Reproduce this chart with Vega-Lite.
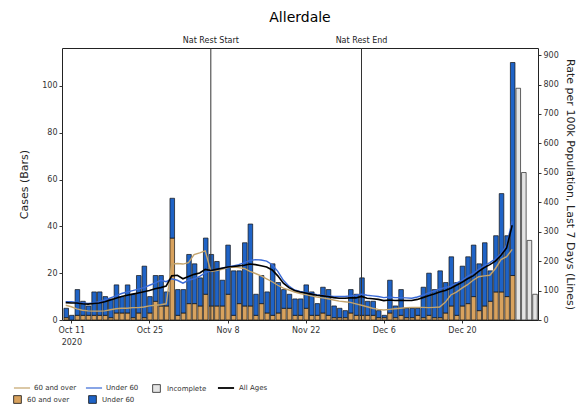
{
  "$schema": "https://vega.github.io/schema/vega-lite/v6.json",
  "width": 476,
  "height": 272,
  "autosize": {"type": "none"},
  "padding": {"left": 62, "top": 48, "right": 39, "bottom": 90},
  "background": "white",
  "config": {
    "font": "DejaVu Sans",
    "view": {"stroke": "#222", "strokeWidth": 1},
    "axis": {
      "labelFont": "DejaVu Sans", "labelFontSize": 8, "labelColor": "#333",
      "titleFont": "DejaVu Sans", "titleFontSize": 11, "titleFontWeight": "normal", "titleColor": "#222",
      "tickColor": "#333", "tickSize": 3, "domain": false, "grid": false, "labelPadding": 2
    },
    "legend": {"labelFont": "DejaVu Sans", "labelFontSize": 7, "labelColor": "#333", "padding": 0, "title": null, "orient": "none", "direction": "horizontal"}
  },
  "title": {"text": "Allerdale", "font": "DejaVu Sans", "fontSize": 14, "fontWeight": "normal", "color": "#000", "anchor": "middle", "frame": "group", "offset": 12},
  "datasets": {
    "daily": [
      {"date": "2020-10-10", "B60": 1, "BU60": 4, "L60": 50, "LU60": 62, "LAll": 59},
      {"date": "2020-10-11", "B60": 0, "BU60": 2, "L60": 45, "LU60": 62, "LAll": 58},
      {"date": "2020-10-12", "B60": 2, "BU60": 11, "L60": 38, "LU60": 60, "LAll": 58},
      {"date": "2020-10-13", "B60": 2, "BU60": 6, "L60": 33, "LU60": 58, "LAll": 55},
      {"date": "2020-10-14", "B60": 2, "BU60": 4, "L60": 31, "LU60": 56, "LAll": 54},
      {"date": "2020-10-15", "B60": 2, "BU60": 10, "L60": 30, "LU60": 58, "LAll": 56},
      {"date": "2020-10-16", "B60": 2, "BU60": 10, "L60": 30, "LU60": 62, "LAll": 58},
      {"date": "2020-10-17", "B60": 2, "BU60": 8, "L60": 31, "LU60": 68, "LAll": 62},
      {"date": "2020-10-18", "B60": 1, "BU60": 8, "L60": 35, "LU60": 75, "LAll": 68},
      {"date": "2020-10-19", "B60": 3, "BU60": 12, "L60": 38, "LU60": 82, "LAll": 74},
      {"date": "2020-10-20", "B60": 3, "BU60": 7, "L60": 40, "LU60": 90, "LAll": 80},
      {"date": "2020-10-21", "B60": 3, "BU60": 12, "L60": 40, "LU60": 95, "LAll": 84},
      {"date": "2020-10-22", "B60": 1, "BU60": 10, "L60": 42, "LU60": 100, "LAll": 88},
      {"date": "2020-10-23", "B60": 3, "BU60": 16, "L60": 42, "LU60": 105, "LAll": 92},
      {"date": "2020-10-24", "B60": 1, "BU60": 22, "L60": 44, "LU60": 110, "LAll": 96},
      {"date": "2020-10-25", "B60": 3, "BU60": 7, "L60": 48, "LU60": 118, "LAll": 100},
      {"date": "2020-10-26", "B60": 8, "BU60": 11, "L60": 50, "LU60": 125, "LAll": 106},
      {"date": "2020-10-27", "B60": 6, "BU60": 13, "L60": 52, "LU60": 135, "LAll": 110},
      {"date": "2020-10-28", "B60": 6, "BU60": 6, "L60": 55, "LU60": 130, "LAll": 115},
      {"date": "2020-10-29", "B60": 35, "BU60": 17, "L60": 190, "LU60": 140, "LAll": 150},
      {"date": "2020-10-30", "B60": 2, "BU60": 11, "L60": 192, "LU60": 135, "LAll": 152},
      {"date": "2020-10-31", "B60": 3, "BU60": 10, "L60": 190, "LU60": 125, "LAll": 140},
      {"date": "2020-11-01", "B60": 7, "BU60": 21, "L60": 195, "LU60": 135, "LAll": 148},
      {"date": "2020-11-02", "B60": 7, "BU60": 17, "L60": 222, "LU60": 140, "LAll": 155},
      {"date": "2020-11-03", "B60": 6, "BU60": 12, "L60": 228, "LU60": 148, "LAll": 160},
      {"date": "2020-11-04", "B60": 11, "BU60": 24, "L60": 235, "LU60": 160, "LAll": 172},
      {"date": "2020-11-05", "B60": 6, "BU60": 22, "L60": 165, "LU60": 168, "LAll": 168},
      {"date": "2020-11-06", "B60": 6, "BU60": 19, "L60": 168, "LU60": 172, "LAll": 172},
      {"date": "2020-11-07", "B60": 6, "BU60": 11, "L60": 172, "LU60": 176, "LAll": 176},
      {"date": "2020-11-08", "B60": 11, "BU60": 21, "L60": 178, "LU60": 180, "LAll": 180},
      {"date": "2020-11-09", "B60": 2, "BU60": 19, "L60": 180, "LU60": 184, "LAll": 182},
      {"date": "2020-11-10", "B60": 7, "BU60": 14, "L60": 178, "LU60": 188, "LAll": 184},
      {"date": "2020-11-11", "B60": 6, "BU60": 27, "L60": 175, "LU60": 195, "LAll": 186},
      {"date": "2020-11-12", "B60": 6, "BU60": 35, "L60": 165, "LU60": 202, "LAll": 190},
      {"date": "2020-11-13", "B60": 2, "BU60": 9, "L60": 158, "LU60": 205, "LAll": 188},
      {"date": "2020-11-14", "B60": 7, "BU60": 12, "L60": 150, "LU60": 204, "LAll": 184},
      {"date": "2020-11-15", "B60": 3, "BU60": 9, "L60": 140, "LU60": 200, "LAll": 180},
      {"date": "2020-11-16", "B60": 2, "BU60": 22, "L60": 130, "LU60": 188, "LAll": 170},
      {"date": "2020-11-17", "B60": 3, "BU60": 13, "L60": 118, "LU60": 165, "LAll": 150},
      {"date": "2020-11-18", "B60": 5, "BU60": 8, "L60": 108, "LU60": 135, "LAll": 125},
      {"date": "2020-11-19", "B60": 5, "BU60": 6, "L60": 102, "LU60": 115, "LAll": 110},
      {"date": "2020-11-20", "B60": 2, "BU60": 7, "L60": 95, "LU60": 102, "LAll": 100},
      {"date": "2020-11-21", "B60": 2, "BU60": 7, "L60": 90, "LU60": 97, "LAll": 95},
      {"date": "2020-11-22", "B60": 5, "BU60": 10, "L60": 86, "LU60": 94, "LAll": 92},
      {"date": "2020-11-23", "B60": 2, "BU60": 10, "L60": 82, "LU60": 90, "LAll": 88},
      {"date": "2020-11-24", "B60": 2, "BU60": 5, "L60": 78, "LU60": 86, "LAll": 84},
      {"date": "2020-11-25", "B60": 3, "BU60": 11, "L60": 75, "LU60": 84, "LAll": 82},
      {"date": "2020-11-26", "B60": 2, "BU60": 11, "L60": 72, "LU60": 82, "LAll": 80},
      {"date": "2020-11-27", "B60": 1, "BU60": 5, "L60": 68, "LU60": 80, "LAll": 76},
      {"date": "2020-11-28", "B60": 1, "BU60": 4, "L60": 64, "LU60": 80, "LAll": 74},
      {"date": "2020-11-29", "B60": 1, "BU60": 3, "L60": 62, "LU60": 80, "LAll": 74},
      {"date": "2020-11-30", "B60": 3, "BU60": 10, "L60": 60, "LU60": 82, "LAll": 75},
      {"date": "2020-12-01", "B60": 2, "BU60": 9, "L60": 55, "LU60": 84, "LAll": 75},
      {"date": "2020-12-02", "B60": 2, "BU60": 16, "L60": 50, "LU60": 88, "LAll": 80},
      {"date": "2020-12-03", "B60": 2, "BU60": 6, "L60": 45, "LU60": 84, "LAll": 74},
      {"date": "2020-12-04", "B60": 2, "BU60": 6, "L60": 40, "LU60": 82, "LAll": 72},
      {"date": "2020-12-05", "B60": 1, "BU60": 3, "L60": 36, "LU60": 80, "LAll": 70},
      {"date": "2020-12-06", "B60": 1, "BU60": 1, "L60": 34, "LU60": 76, "LAll": 66},
      {"date": "2020-12-07", "B60": 3, "BU60": 14, "L60": 36, "LU60": 78, "LAll": 68},
      {"date": "2020-12-08", "B60": 1, "BU60": 5, "L60": 38, "LU60": 76, "LAll": 66},
      {"date": "2020-12-09", "B60": 2, "BU60": 11, "L60": 40, "LU60": 76, "LAll": 67},
      {"date": "2020-12-10", "B60": 1, "BU60": 4, "L60": 42, "LU60": 75, "LAll": 66},
      {"date": "2020-12-11", "B60": 1, "BU60": 4, "L60": 43, "LU60": 74, "LAll": 66},
      {"date": "2020-12-12", "B60": 2, "BU60": 3, "L60": 43, "LU60": 78, "LAll": 70},
      {"date": "2020-12-13", "B60": 1, "BU60": 13, "L60": 43, "LU60": 84, "LAll": 76},
      {"date": "2020-12-14", "B60": 2, "BU60": 18, "L60": 42, "LU60": 92, "LAll": 82},
      {"date": "2020-12-15", "B60": 1, "BU60": 12, "L60": 43, "LU60": 98, "LAll": 88},
      {"date": "2020-12-16", "B60": 1, "BU60": 20, "L60": 44, "LU60": 106, "LAll": 95},
      {"date": "2020-12-17", "B60": 3, "BU60": 13, "L60": 60, "LU60": 110, "LAll": 100},
      {"date": "2020-12-18", "B60": 6, "BU60": 21, "L60": 85, "LU60": 115, "LAll": 108},
      {"date": "2020-12-19", "B60": 2, "BU60": 14, "L60": 95, "LU60": 125, "LAll": 118},
      {"date": "2020-12-20", "B60": 6, "BU60": 17, "L60": 108, "LU60": 135, "LAll": 128},
      {"date": "2020-12-21", "B60": 7, "BU60": 20, "L60": 120, "LU60": 148, "LAll": 140},
      {"date": "2020-12-22", "B60": 10, "BU60": 22, "L60": 135, "LU60": 158, "LAll": 150},
      {"date": "2020-12-23", "B60": 4, "BU60": 20, "L60": 147, "LU60": 172, "LAll": 165},
      {"date": "2020-12-24", "B60": 6, "BU60": 27, "L60": 150, "LU60": 185, "LAll": 178},
      {"date": "2020-12-25", "B60": 8, "BU60": 13, "L60": 152, "LU60": 195, "LAll": 188},
      {"date": "2020-12-26", "B60": 12, "BU60": 24, "L60": 175, "LU60": 208, "LAll": 200},
      {"date": "2020-12-27", "B60": 12, "BU60": 42, "L60": 205, "LU60": 225, "LAll": 220},
      {"date": "2020-12-28", "B60": 10, "BU60": 26, "L60": 215, "LU60": 255, "LAll": 245},
      {"date": "2020-12-29", "B60": 19, "BU60": 91, "L60": 240, "LU60": 335, "LAll": 322},
      {"date": "2020-12-30", "Inc": 99},
      {"date": "2020-12-31", "Inc": 63},
      {"date": "2021-01-01", "Inc": 34},
      {"date": "2021-01-02", "Inc": 11}
    ],
    "events": [
      {"date": "2020-11-05", "label": "Nat Rest Start"},
      {"date": "2020-12-02", "label": "Nat Rest End"}
    ]
  },
  "layer": [
    {
      "layer": [
        {
          "data": {"name": "daily"},
          "transform": [
            {"fold": ["B60", "BU60"], "as": ["series", "n"]},
            {"filter": "isValid(datum.n) && datum.n > 0"}
          ],
          "mark": {"type": "bar", "stroke": "#111", "strokeWidth": 0.7},
          "encoding": {
            "x": {
              "field": "date", "type": "temporal", "timeUnit": "utcyearmonthdate",
              "scale": {"type": "utc", "domain": [
                {"year": 2020, "month": 10, "date": 9, "hours": 20, "utc": true},
                {"year": 2021, "month": 1, "date": 3, "hours": 3, "utc": true}
              ]},
              "axis": {
                "title": null,
                "values": [
                  {"year": 2020, "month": 10, "date": 11, "hours": 12, "utc": true},
                  {"year": 2020, "month": 10, "date": 25, "hours": 12, "utc": true},
                  {"year": 2020, "month": 11, "date": 8, "hours": 12, "utc": true},
                  {"year": 2020, "month": 11, "date": 22, "hours": 12, "utc": true},
                  {"year": 2020, "month": 12, "date": 6, "hours": 12, "utc": true},
                  {"year": 2020, "month": 12, "date": 20, "hours": 12, "utc": true}
                ],
                "labelExpr": "utcFormat(datum.value, '%b %-d') == 'Oct 11' ? ['Oct 11', '2020'] : utcFormat(datum.value, '%b %-d')",
                "labelPadding": 3,
                "labelLineHeight": 12
              }
            },
            "y": {
              "field": "n", "type": "quantitative", "stack": "zero",
              "scale": {"domain": [0, 116.2], "nice": false},
              "axis": {"title": "Cases (Bars)", "titleColor": "#222", "values": [0, 20, 40, 60, 80, 100], "titlePadding": 12}
            },
            "order": {"field": "series", "sort": "ascending"},
            "fill": {
              "field": "series", "type": "nominal",
              "scale": {"domain": ["B60", "BU60"], "range": ["#d8a25e", "#1f63c6"]},
              "legend": {
                "legendX": -49, "legendY": 347, "columns": 2,
                "symbolType": "square", "symbolSize": 60, "symbolStrokeWidth": 0.8,
                "columnPadding": 17, "labelOffset": 5,
                "labelExpr": "datum.value == 'B60' ? '60 and over' : 'Under 60'"
              }
            }
          }
        },
        {
          "data": {"name": "daily"},
          "transform": [
            {"fold": ["Inc"], "as": ["series", "n"]},
            {"filter": "isValid(datum.n) && datum.n > 0"}
          ],
          "mark": {"type": "bar", "stroke": "#222", "strokeWidth": 0.7},
          "encoding": {
            "x": {"field": "date", "type": "temporal", "timeUnit": "utcyearmonthdate"},
            "y": {"field": "n", "type": "quantitative"},
            "fill": {
              "field": "series", "type": "nominal",
              "scale": {"domain": ["Inc"], "range": ["#e4e4e4"]},
              "legend": {
                "legendX": 90, "legendY": 336,
                "symbolType": "square", "symbolSize": 60, "symbolStrokeWidth": 0.8,
                "labelOffset": 6,
                "labelExpr": "'Incomplete'"
              }
            }
          }
        },
        {
          "data": {"name": "events"},
          "mark": {"type": "rule", "color": "#333", "strokeWidth": 1},
          "encoding": {
            "x": {"field": "date", "type": "temporal", "timeUnit": "utcyearmonthdate", "bandPosition": 0.5}
          }
        },
        {
          "data": {"name": "events"},
          "mark": {"type": "text", "font": "DejaVu Sans", "fontSize": 8, "color": "#222", "baseline": "bottom", "align": "center", "dy": -3},
          "encoding": {
            "x": {"field": "date", "type": "temporal", "timeUnit": "utcyearmonthdate", "bandPosition": 0.5},
            "y": {"datum": 116.2, "type": "quantitative"},
            "text": {"field": "label"}
          }
        }
      ],
      "resolve": {"scale": {"fill": "independent"}}
    },
    {
      "layer": [
        {
          "data": {"name": "daily"},
          "transform": [
            {"fold": ["L60", "LU60"], "as": ["series", "rate"]},
            {"filter": "isValid(datum.rate)"}
          ],
          "mark": {"type": "line", "strokeWidth": 1.4, "interpolate": "linear"},
          "encoding": {
            "x": {"field": "date", "type": "temporal", "timeUnit": "utcyearmonthdate", "bandPosition": 0.5},
            "y": {
              "field": "rate", "type": "quantitative",
              "scale": {"domain": [0, 924], "nice": false},
              "axis": {
                "orient": "right", "title": "Rate per 100k Population, Last 7 Days (Lines)", "titleColor": "#222",
                "values": [0, 100, 200, 300, 400, 500, 600, 700, 800, 900], "titlePadding": 6
              }
            },
            "stroke": {
              "field": "series", "type": "nominal",
              "scale": {"domain": ["L60", "LU60"], "range": ["#c4a46c", "#3a6ad6"]},
              "legend": {
                "legendX": -49, "legendY": 331, "columns": 2,
                "symbolType": "stroke", "symbolSize": 260, "symbolStrokeWidth": 1.2,
                "columnPadding": 6, "labelOffset": 3,
                "labelExpr": "datum.value == 'L60' ? '60 and over' : 'Under 60'"
              }
            }
          }
        },
        {
          "data": {"name": "daily"},
          "transform": [
            {"fold": ["LAll"], "as": ["series", "rate"]},
            {"filter": "isValid(datum.rate)"}
          ],
          "mark": {"type": "line", "strokeWidth": 1.6, "interpolate": "linear"},
          "encoding": {
            "x": {"field": "date", "type": "temporal", "timeUnit": "utcyearmonthdate", "bandPosition": 0.5},
            "y": {
              "field": "rate", "type": "quantitative",
              "axis": {
                "orient": "right", "title": "Rate per 100k Population, Last 7 Days (Lines)", "titleColor": "#222",
                "values": [0, 100, 200, 300, 400, 500, 600, 700, 800, 900], "titlePadding": 6
              }
            },
            "stroke": {
              "field": "series", "type": "nominal",
              "scale": {"domain": ["LAll"], "range": ["#000000"]},
              "legend": {
                "legendX": 155, "legendY": 331,
                "symbolType": "stroke", "symbolSize": 260, "symbolStrokeWidth": 1.8,
                "labelOffset": 4,
                "labelExpr": "'All Ages'"
              }
            }
          }
        }
      ],
      "resolve": {"scale": {"stroke": "independent"}}
    }
  ],
  "resolve": {"scale": {"y": "independent"}}
}
